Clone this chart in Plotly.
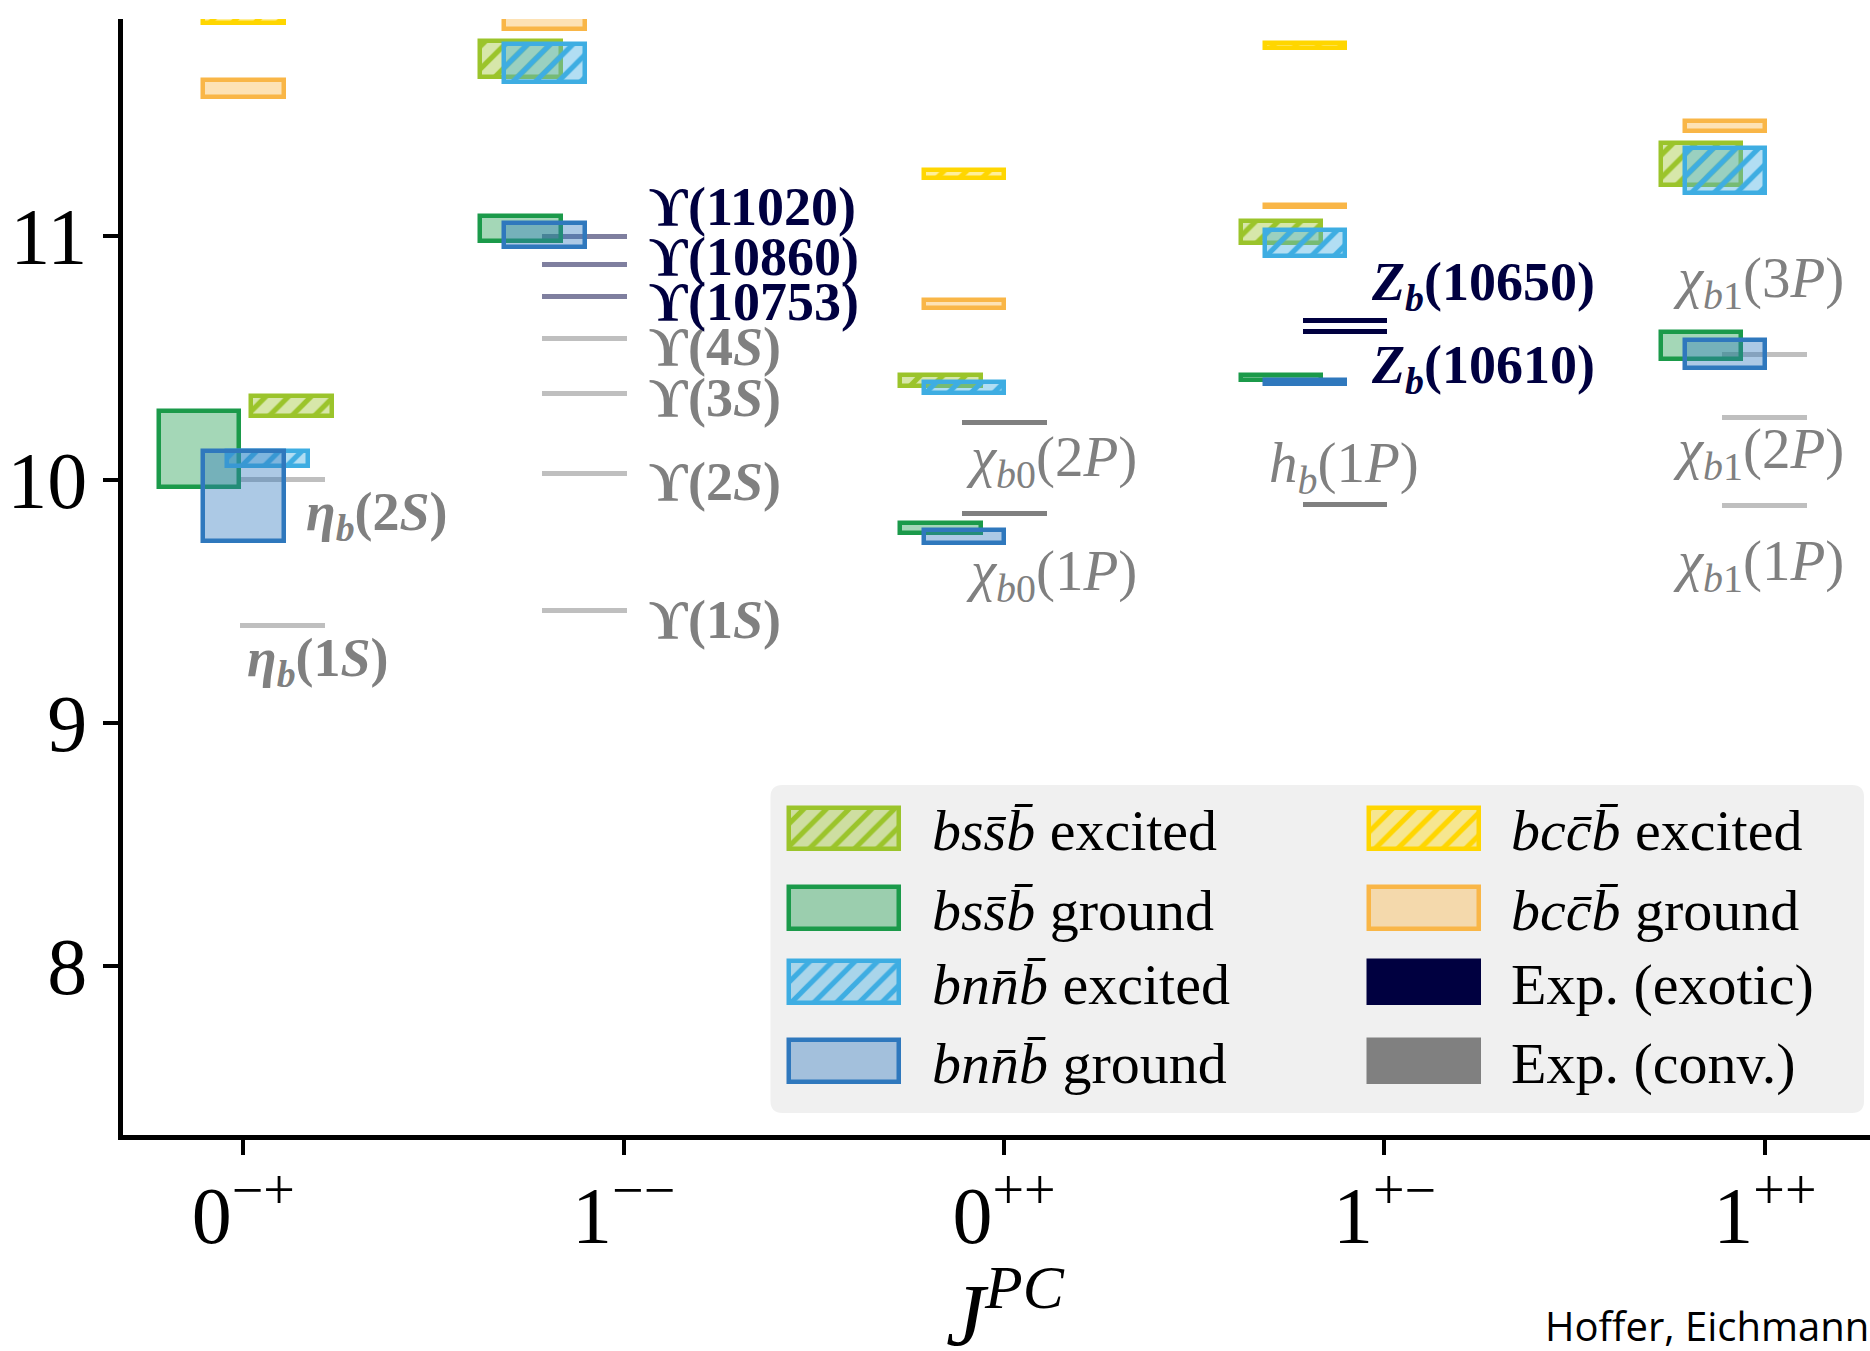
import plotly.graph_objects as go

# ---------------------------------------------------------------- data ----
JPC_TICKS = ["0<sup>−+</sup>", "1<sup>−−</sup>", "0<sup>++</sup>",
             "1<sup>+−</sup>", "1<sup>++</sup>"]
MASS_TICKS = [8, 9, 10, 11]

# tetraquark mass bands in GeV, one entry per J^PC column (None = no state)
BSS_EXC_LO = [10.261, 11.654, 10.386, 10.970, 11.209]
BSS_EXC_HI = [10.345, 11.801, 10.430, 11.063, 11.385]
BSS_GND_LO = [9.970, 10.981, 9.779, 10.410, 10.497]
BSS_GND_HI = [10.281, 11.081, 9.823, 10.428, 10.608]
BNN_EXC_LO = [10.055, 11.634, 10.355, 10.918, 11.179]
BNN_EXC_HI = [10.116, 11.788, 10.399, 11.024, 11.361]
BNN_GND_LO = [9.747, 10.954, 9.741, 10.392, 10.459]
BNN_GND_HI = [10.119, 11.056, 9.791, 10.411, 10.575]
BCC_EXC_LO = [11.876, None, 11.240, 11.774, None]
BCC_EXC_HI = [11.950, None, 11.274, 11.793, None]
BCC_GND_LO = [11.573, 11.850, 10.706, 11.122, 11.432]
BCC_GND_HI = [11.644, 11.950, 10.738, 11.129, 11.475]

# experimental bottomonium-like states (GeV)
EXP_NAMES = ["η_b(1S)", "η_b(2S)", "Υ(1S)", "Υ(2S)", "Υ(3S)", "Υ(4S)",
             "Υ(10753)", "Υ(10860)", "Υ(11020)", "χ_b0(1P)", "χ_b0(2P)",
             "h_b(1P)", "Z_b(10610)", "Z_b(10650)", "χ_b1(1P)", "χ_b1(2P)",
             "χ_b1(3P)"]
EXP_COLUMN = [0, 0, 1, 1, 1, 1, 1, 1, 1, 2, 2, 3, 3, 3, 4, 4, 4]
EXP_MASS = [9.399, 9.999, 9.460, 10.023, 10.355, 10.579, 10.753, 10.885,
            11.000, 9.859, 10.233, 9.899, 10.607, 10.652, 9.893, 10.255,
            10.512]
EXP_EXOTIC = [False, False, False, False, False, False, True, True, True,
              False, False, False, True, True, False, False, False]
EXP_LABELS = [
    "<b><i>η</i><sub><i>b</i></sub>(1<i>S</i>)</b>",
    "<b><i>η</i><sub><i>b</i></sub>(2<i>S</i>)</b>",
    "<b>ϒ(1<i>S</i>)</b>", "<b>ϒ(2<i>S</i>)</b>", "<b>ϒ(3<i>S</i>)</b>",
    "<b>ϒ(4<i>S</i>)</b>",
    "<b>ϒ(10753)</b>", "<b>ϒ(10860)</b>", "<b>ϒ(11020)</b>",
    "<i>χ</i><sub><i>b</i>0</sub>(1<i>P</i>)",
    "<i>χ</i><sub><i>b</i>0</sub>(2<i>P</i>)",
    "<i>h</i><sub><i>b</i></sub>(1<i>P</i>)",
    "<b><i>Z</i><sub><i>b</i></sub>(10610)</b>",
    "<b><i>Z</i><sub><i>b</i></sub>(10650)</b>",
    "<i>χ</i><sub><i>b</i>1</sub>(1<i>P</i>)",
    "<i>χ</i><sub><i>b</i>1</sub>(2<i>P</i>)",
    "<i>χ</i><sub><i>b</i>1</sub>(3<i>P</i>)",
]

# ------------------------------------------------------------- layout ----
SERIF = "Liberation Serif"
NAVY = "#000040"
GRAY = "#808080"

# horizontal placement of each group inside a column (axis units)
OFFSETS = {
    "bss_exc": [0.127, -0.272, -0.168, -0.272, -0.168],
    "bss_gnd": [-0.116, -0.272, -0.168, -0.272, -0.168],
    "bnn_exc": [0.064, -0.209, -0.105, -0.209, -0.105],
    "bnn_gnd": [0.000, -0.209, -0.105, -0.209, -0.105],
    "bcc_exc": [0.000, -0.209, -0.105, -0.209, -0.105],
    "bcc_gnd": [0.000, -0.209, -0.105, -0.209, -0.105],
}
EXP_OFFSET = [0.104, -0.104, 0.0, -0.104, 0.0]
BOX_W = 0.212
LINE_W = 0.223
LINE_T = 0.021          # thickness of experimental levels (GeV)
# states drawn with a faded level marker
EXP_FADED = [True, True, True, True, True, True, True, True, True,
             False, False, False, False, False, True, True, True]
# label anchors (left edge, vertical centre) in axis units
LABEL_POS = [(0.004, 9.254), (0.160, 9.850),
             (1.061, 9.423), (1.061, 9.990), (1.061, 10.335), (1.061, 10.545),
             (1.061, 10.730), (1.061, 10.915), (1.061, 11.120),
             (1.895, 9.608), (1.895, 10.076),
             (2.690, 10.051), (2.959, 10.458), (2.959, 10.799),
             (3.753, 9.649), (3.753, 10.109), (3.753, 10.812)]

SPECIES = [
    ("bss_exc", BSS_EXC_LO, BSS_EXC_HI, "#9bc42b", True,
     "<i>bss\u0304b\u0304</i> excited"),
    ("bss_gnd", BSS_GND_LO, BSS_GND_HI, "#1b9a4a", False,
     "<i>bss\u0304b\u0304</i> ground"),
    ("bnn_exc", BNN_EXC_LO, BNN_EXC_HI, "#3eade2", True,
     "<i>bnn\u0304b\u0304</i> excited"),
    ("bnn_gnd", BNN_GND_LO, BNN_GND_HI, "#2f78bd", False,
     "<i>bnn\u0304b\u0304</i> ground"),
    ("bcc_exc", BCC_EXC_LO, BCC_EXC_HI, "#ffd600", True,
     "<i>bcc\u0304b\u0304</i> excited"),
    ("bcc_gnd", BCC_GND_LO, BCC_GND_HI, "#f9b647", False,
     "<i>bcc\u0304b\u0304</i> ground"),
]


def rgba(hex_color, a):
    h = hex_color.lstrip("#")
    r, g, b = (int(h[i:i + 2], 16) for i in (0, 2, 4))
    return f"rgba({r},{g},{b},{a})"


def box_marker(color, hatched):
    m = dict(color=rgba(color, 0.4), line=dict(color=color, width=4.5))
    if hatched:
        m["pattern"] = dict(shape="/", size=16, solidity=0.32,
                            fgcolor=color, bgcolor=rgba(color, 0.4),
                            fillmode="replace")
    return m


fig = go.Figure()

# experimental levels (drawn first so the bands sit on top)
for exotic in (True, False):
    for faded in (True, False):
        idx = [i for i in range(len(EXP_MASS))
               if EXP_EXOTIC[i] == exotic and EXP_FADED[i] == faded]
        if not idx:
            continue
        base_col = NAVY if exotic else GRAY
        col = rgba(base_col, 0.5) if faded else base_col
        fig.add_trace(go.Bar(
            x=[EXP_COLUMN[i] + EXP_OFFSET[EXP_COLUMN[i]] for i in idx],
            base=[EXP_MASS[i] - LINE_T / 2 for i in idx],
            y=[LINE_T] * len(idx),
            width=LINE_W,
            marker=dict(color=col, line=dict(width=0)),
            hovertext=[EXP_NAMES[i] for i in idx],
            showlegend=False,
        ))

# tetraquark bands
for key, lo, hi, color, hatched, _ in SPECIES:
    cols = [c for c in range(len(lo)) if lo[c] is not None]
    fig.add_trace(go.Bar(
        x=[c + OFFSETS[key][c] for c in cols],
        base=[lo[c] for c in cols],
        y=[hi[c] - lo[c] for c in cols],
        width=BOX_W,
        marker=box_marker(color, hatched),
        showlegend=False,
    ))

# state labels
for i, (lx, ly) in enumerate(LABEL_POS):
    bold = EXP_LABELS[i].startswith("<b>")
    fig.add_annotation(
        x=lx, y=ly, xref="x", yref="y", text=EXP_LABELS[i],
        xanchor="left", yanchor="middle", showarrow=False,
        font=dict(family=SERIF, size=54 if bold else 57,
                  color=NAVY if EXP_EXOTIC[i] else GRAY),
    )

# ---------------------------------------------------------- legend ----
# a pixel-scaled overlay axis pair hosts the legend box
LEG_X0, LEG_Y0, LEG_X1, LEG_Y1, LEG_R = 770.5, 785, 1864, 1113, 12
SW_X = [844.3, 1423.7]
SW_Y = [828.7, 908, 982, 1061]
SW_W, SW_H = 110, 41.5
TXT_X = [930, 1509]

path = (f"M {LEG_X0 + LEG_R},{LEG_Y0} L {LEG_X1 - LEG_R},{LEG_Y0} "
        f"Q {LEG_X1},{LEG_Y0} {LEG_X1},{LEG_Y0 + LEG_R} "
        f"L {LEG_X1},{LEG_Y1 - LEG_R} Q {LEG_X1},{LEG_Y1} {LEG_X1 - LEG_R},{LEG_Y1} "
        f"L {LEG_X0 + LEG_R},{LEG_Y1} Q {LEG_X0},{LEG_Y1} {LEG_X0},{LEG_Y1 - LEG_R} "
        f"L {LEG_X0},{LEG_Y0 + LEG_R} Q {LEG_X0},{LEG_Y0} {LEG_X0 + LEG_R},{LEG_Y0} Z")
fig.add_shape(type="path", path=path, xref="x2", yref="y2",
              fillcolor="#f0f0f0", line=dict(width=0), layer="below")

entries = [(s[3], s[4], s[5]) for s in SPECIES] + [
    (NAVY, None, "Exp. (exotic)"), (GRAY, None, "Exp. (conv.)")]
for k, (color, hatched, text) in enumerate(entries):
    c, r = divmod(k, 4)
    if hatched is None:
        marker = dict(color=color, line=dict(color=color, width=4.5))
    else:
        marker = box_marker(color, hatched)
    fig.add_trace(go.Bar(
        x=[SW_X[c]], base=[SW_Y[r] - SW_H / 2], y=[SW_H], width=SW_W,
        marker=marker, xaxis="x2", yaxis="y2", showlegend=False,
        hoverinfo="skip",
    ))
    fig.add_annotation(
        x=TXT_X[c], y=SW_Y[r] + 2, xref="x2", yref="y2", text=text,
        xanchor="left", yanchor="middle", showarrow=False,
        font=dict(family=SERIF, size=58, color="black"),
    )

# axis title and credit line
fig.add_annotation(
    x=0.5049, y=-0.104, xref="paper", yref="paper",
    text="<i>J</i><sup><i>PC</i></sup>", xanchor="center", yanchor="top",
    showarrow=False, font=dict(family=SERIF, size=88, color="black"),
)
fig.add_annotation(
    x=0.8127, y=-0.171, xref="paper", yref="paper",
    text="Hoffer, Eichmann,", xanchor="left", yanchor="middle",
    showarrow=False, font=dict(family="Open Sans", size=40, color="black"),
)

axis_font = dict(family=SERIF, size=80, color="black")
fig.update_layout(
    width=1870, height=1351, autosize=False,
    margin=dict(l=123, r=0, t=19, b=216, pad=0),
    paper_bgcolor="white", plot_bgcolor="white",
    barmode="overlay", bargap=0,
    showlegend=False,
    xaxis=dict(
        range=[-0.3162, 4.2763], tickmode="array",
        tickvals=list(range(len(JPC_TICKS))), ticktext=JPC_TICKS,
        showline=True, linecolor="black", linewidth=4.5, mirror=False,
        ticks="outside", ticklen=15, tickwidth=3.5, tickcolor="black",
        showgrid=False, zeroline=False, tickfont=axis_font,
        ticklabelstandoff=-8,
    ),
    yaxis=dict(
        range=[7.3058, 11.8927], tickmode="array", tickvals=MASS_TICKS,
        showline=True, linecolor="black", linewidth=4.5, mirror=False,
        ticks="outside", ticklen=15, tickwidth=3.5, tickcolor="black",
        showgrid=False, zeroline=False, tickfont=axis_font,
    ),
    xaxis2=dict(range=[123, 1870], overlaying="x", visible=False,
                fixedrange=True),
    yaxis2=dict(range=[1135, 19], overlaying="y", visible=False,
                fixedrange=True),
)

fig.write_html("out.html")
